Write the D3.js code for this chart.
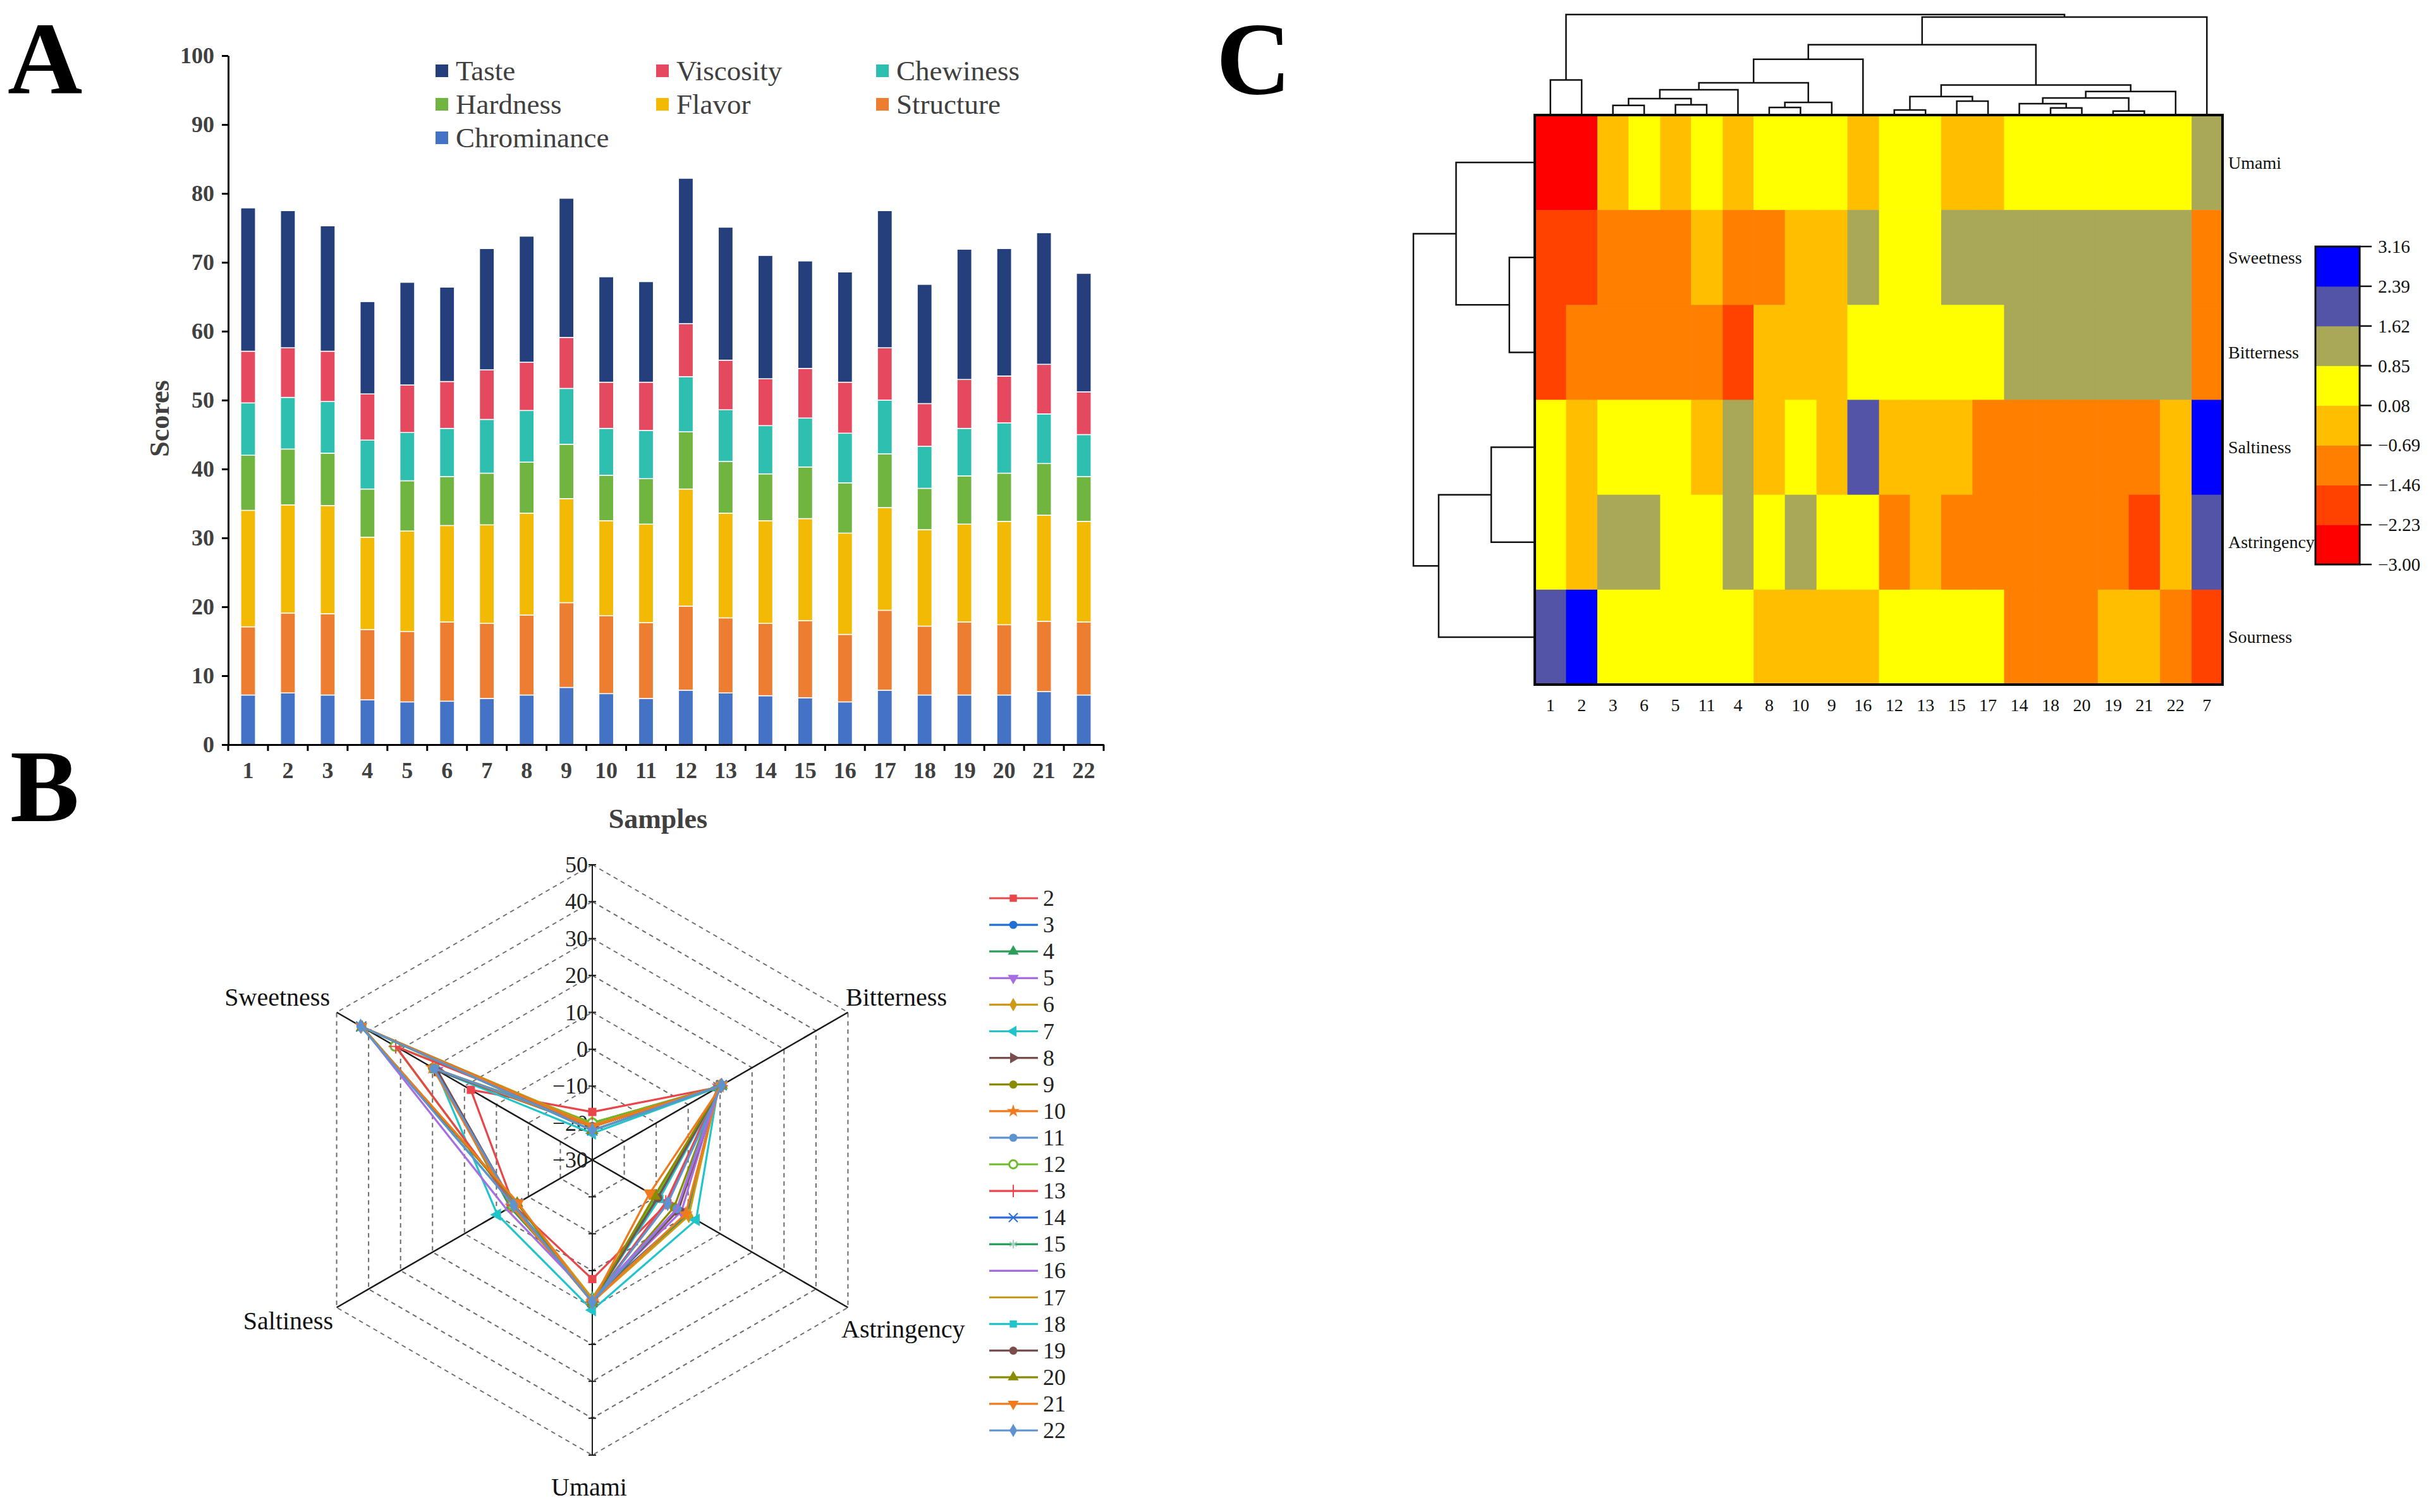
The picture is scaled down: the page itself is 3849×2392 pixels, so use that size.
<!DOCTYPE html>
<html>
<head>
<meta charset="utf-8">
<script src="https://cdn.jsdelivr.net/npm/d3@7"></script>
<style>
  body { margin: 0; background: #fff; }
  text { font-family: "Liberation Serif", "Times New Roman", serif; }
</style>
</head>
<body>
<svg id="fig" width="3849" height="2392"></svg>
<script>
// ---------- Panel A: stacked sensory scores ----------
var samples = d3.range(1, 23).map(String);
var chrominance = [7.2, 7.5, 7.2, 6.5, 6.2, 6.3, 6.7, 7.2, 8.3, 7.4, 6.7, 7.9, 7.5, 7.1, 6.8, 6.2, 7.9, 7.2, 7.2, 7.2, 7.7, 7.2];
var structure   = [9.9, 11.6, 11.8, 10.2, 10.2, 11.5, 10.9, 11.6, 12.3, 11.3, 11.0, 12.2, 10.9, 10.5, 11.2, 9.8, 11.6, 10.0, 10.6, 10.2, 10.2, 10.6];
var flavor      = [16.9, 15.7, 15.7, 13.4, 14.6, 14.0, 14.3, 14.8, 15.1, 13.8, 14.3, 17.0, 15.2, 14.9, 14.8, 14.7, 14.9, 14.0, 14.2, 15.0, 15.4, 14.6];
var hardness    = [8.0, 8.1, 7.6, 7.0, 7.3, 7.1, 7.5, 7.4, 7.9, 6.6, 6.6, 8.3, 7.5, 6.8, 7.5, 7.3, 7.8, 6.0, 7.0, 7.0, 7.5, 6.5];
var chewiness   = [7.6, 7.5, 7.5, 7.1, 7.0, 7.0, 7.8, 7.5, 8.1, 6.8, 7.0, 8.0, 7.5, 7.0, 7.1, 7.2, 7.8, 6.1, 6.9, 7.3, 7.2, 6.1];
var viscosity   = [7.5, 7.2, 7.3, 6.7, 6.9, 6.8, 7.2, 7.0, 7.4, 6.7, 7.0, 7.7, 7.2, 6.8, 7.2, 7.4, 7.6, 6.2, 7.1, 6.8, 7.2, 6.2];
var taste       = [20.8, 19.9, 18.2, 13.4, 14.9, 13.7, 17.6, 18.3, 20.2, 15.3, 14.6, 21.1, 19.3, 17.9, 15.6, 16.0, 19.9, 17.3, 18.9, 18.5, 19.1, 17.2];
var stackKeys = ['Chrominance', 'Structure', 'Flavor', 'Hardness', 'Chewiness', 'Viscosity', 'Taste'];
var stackValues = [chrominance, structure, flavor, hardness, chewiness, viscosity, taste];
var stackColors = ['#4472C4', '#ED7D31', '#F2BA05', '#70B53F', '#2FBFB0', '#E4495F', '#243F7C'];
var legendOrderA = ['Taste', 'Viscosity', 'Chewiness', 'Hardness', 'Flavor', 'Structure', 'Chrominance'];

// ---------- Panel B: radar (e-tongue) ----------
var radarAxes = ['Sourness', 'Bitterness', 'Astringency', 'Umami', 'Saltiness', 'Sweetness'];
var radarNames = d3.range(2, 23).map(String);
var radarValues = [
  [-17.0, 9.4, -6.5, 2.3, -5.4, 8.0],
  [-20.0, 9.4, -0.5, 7.5, -4.8, 18.5],
  [-20.0, 9.2, 0.0, 7.5, -4.3, 19.0],
  [-20.5, 9.4, -2.1, 7.5, -4.8, 18.5],
  [-20.0, 9.4, 0.2, 8.5, -4.8, 19.0],
  [-22.8, 9.4, 2.5, 10.7, -0.3, 19.0],
  [-21.0, 9.8, -3.0, 8.5, -5.4, 18.5],
  [-21.0, 9.8, -4.4, 8.5, -5.4, 20.0],
  [-21.0, 9.8, -0.8, 8.5, -4.8, 20.0],
  [-20.5, 9.4, -3.5, 8.5, -5.4, 19.5],
  [-20.0, 10.2, -10.0, 8.5, -5.4, 31.7],
  [-20.5, 10.2, -7.0, 8.5, -5.4, 31.5],
  [-22.0, 10.5, -9.5, 8.5, -6.5, 42.3],
  [-20.5, 10.2, -9.5, 7.5, -5.4, 42.0],
  [-21.0, 10.2, -3.5, 7.5, -3.2, 42.0],
  [-20.5, 10.2, -9.0, 7.5, -6.5, 42.3],
  [-22.0, 10.5, -9.0, 8.5, -6.5, 42.0],
  [-21.0, 10.5, -9.5, 8.5, -6.5, 42.3],
  [-22.0, 10.5, -10.5, 8.5, -6.5, 42.0],
  [-21.0, 10.5, -12.0, 8.5, -6.75, 42.3],
  [-22.0, 10.5, -6.4, 8.5, -5.4, 42.5]
];
var radarColors = ['#E8464A', '#1F6FD6', '#2E9E5B', '#A66EE0', '#CC9A15', '#22C4CC', '#7A4E4E', '#8B8B00', '#F07A1E', '#5E93D0', '#6CBB2A',
                   '#E8464A', '#2A6FD6', '#2E9E5B', '#A66EE0', '#CC9A15', '#22C4CC', '#7A4E4E', '#8B8B00', '#F07A1E', '#5E93D0'];
var radarMarkers = ['square', 'circle', 'up', 'down', 'diamond', 'left', 'right', 'circle', 'star', 'circle', 'open',
                    'plus', 'times', 'asterisk', 'none', 'none', 'square', 'circle', 'up', 'down', 'diamond'];
var radarTicks = [-30, -20, -10, 0, 10, 20, 30, 40, 50];

// ---------- Panel C: clustered heatmap ----------
var heatRows = ['Umami', 'Sweetness', 'Bitterness', 'Saltiness', 'Astringency', 'Sourness'];
// values per sample 1..22
var umami       = [-2.62, -2.62, -0.31, -0.31, -0.31, 0.47, 1.24, 0.47, 0.47, 0.47, 0.47, 0.47, 0.47, 0.47, -0.31, -0.31, -0.31, 0.47, 0.47, 0.47, 0.47, 0.47];
var sweetness   = [-1.85, -1.85, -1.08, -1.08, -1.08, -1.08, -1.08, -1.08, -0.31, -0.31, -0.31, 0.47, 0.47, 1.24, 1.24, 1.24, 1.24, 1.24, 1.24, 1.24, 1.24, 1.24];
var bitterness  = [-1.85, -1.08, -1.08, -1.85, -1.08, -1.08, -1.08, -0.31, -0.31, -0.31, -1.08, 0.47, 0.47, 1.24, 0.47, 0.47, 0.47, 1.24, 1.24, 1.24, 1.24, 1.24];
var saltiness   = [0.47, -0.31, 0.47, 1.24, 0.47, 0.47, 2.78, -0.31, -0.31, 0.47, -0.31, -0.31, -0.31, -1.08, -0.31, 2.01, -1.08, -1.08, -1.08, -1.08, -1.08, -0.31];
var astringency = [0.47, -0.31, 1.24, 1.24, 0.47, 1.24, 2.01, 0.47, 0.47, 1.24, 0.47, -1.08, -0.31, -1.08, -1.08, 0.47, -1.08, -1.08, -1.08, -1.08, -1.85, -0.31];
var sourness    = [2.01, 2.78, 0.47, 0.47, 0.47, 0.47, -1.85, -0.31, -0.31, -0.31, 0.47, 0.47, 0.47, -1.08, 0.47, -0.31, 0.47, -1.08, -0.31, -1.08, -0.31, -1.08];
var heatValues = [umami, sweetness, bitterness, saltiness, astringency, sourness];
var colorBreaks = [-3.00, -2.23, -1.46, -0.69, 0.08, 0.85, 1.62, 2.39, 3.16];
var binColors = ['#FF0000', '#FF4200', '#FF8000', '#FFBF00', '#FFFF00', '#A9A857', '#5353A8', '#0000FF'];
// dendrograms: [mergeHeight, left, right], leaves are labels
var colTree = [158.7, [55.3, '1', '2'],
  [154.7,
    [111,
      [88, [51, [40, [26, [15.3, '3', '6'], [16.3, '5', '11']], '4'], [20, [12, '8', '10'], '9']], '16'],
      [47.3, [29.3, [8, '12', '13'], [22, '15', '17']], [37.3, [27, [18, '14', [11.3, '18', '20']], [6.3, '19', '21']], '22']]],
    '7']];
var rowTree = [192.3, [124.7, 'Umami', [40.3, 'Sweetness', 'Bitterness']], [152.3, [69, 'Saltiness', 'Astringency'], 'Sourness']];

var svg = d3.select('#fig');
svg.append('rect').attr('width', 3849).attr('height', 2392).attr('fill', '#fff');

// panel letters
[['A', 12, 148], ['B', 16, 1299], ['C', 1924, 148]].forEach(function (p) {
  svg.append('text').attr('x', p[1]).attr('y', p[2]).attr('font-size', 164).attr('font-weight', 'bold').text(p[0]);
});

/* ===== Panel A ===== */
var A = {left: 361, right: 1746, top: 88, bottom: 1178};
var gA = svg.append('g');
var xA = d3.scaleBand().domain(samples).range([A.left, A.right]).paddingInner(0.63).paddingOuter(0.315);
var yA = d3.scaleLinear().domain([0, 100]).range([A.bottom, A.top]);

var rowsA = samples.map(function (s, i) {
  var o = {sample: s};
  stackKeys.forEach(function (k, j) { o[k] = stackValues[j][i]; });
  return o;
});
var stacked = d3.stack().keys(stackKeys)(rowsA);

gA.selectAll('g.layer').data(stacked).enter().append('g')
  .attr('class', 'layer')
  .attr('fill', function (d, i) { return stackColors[i]; })
  .selectAll('rect').data(function (d) { return d; }).enter().append('rect')
  .attr('x', function (d) { return xA(d.data.sample); })
  .attr('width', xA.bandwidth())
  .attr('y', function (d) { return yA(d[1]); })
  .attr('height', function (d) { return yA(d[0]) - yA(d[1]); })
  .attr('stroke', '#fff').attr('stroke-width', 1.5);

var yAxisA = d3.axisLeft(yA).tickValues(d3.range(0, 101, 10)).tickSize(10).tickSizeOuter(0).tickPadding(12);
gA.append('g').attr('transform', 'translate(' + A.left + ',0)').call(yAxisA)
  .call(function (g) { g.select('.domain').attr('stroke', '#000').attr('stroke-width', 3); })
  .call(function (g) { g.selectAll('.tick line').attr('stroke', '#000').attr('stroke-width', 3); })
  .call(function (g) {
    g.selectAll('.tick text').attr('font-size', 36).attr('font-weight', 'bold').attr('fill', '#404040')
      .attr('font-family', '"Liberation Serif", serif');
  });

var xAxisA = d3.axisBottom(xA).tickSize(0).tickSizeOuter(0);
gA.append('g').attr('transform', 'translate(0,' + A.bottom + ')').call(xAxisA)
  .call(function (g) { g.select('.domain').attr('stroke', '#000').attr('stroke-width', 3); })
  .call(function (g) {
    g.selectAll('.tick text').attr('y', 41).attr('dy', null).attr('dominant-baseline', 'central')
      .attr('font-size', 36).attr('font-weight', 'bold').attr('fill', '#404040')
      .attr('font-family', '"Liberation Serif", serif');
  });
// tick marks sit between the bars
gA.append('g').selectAll('line').data(d3.range(samples.length + 1)).enter().append('line')
  .attr('x1', function (i) { return A.left + i * xA.step(); })
  .attr('x2', function (i) { return A.left + i * xA.step(); })
  .attr('y1', A.bottom).attr('y2', A.bottom + 10)
  .attr('stroke', '#000').attr('stroke-width', 3);

gA.append('text').attr('transform', 'translate(252,662) rotate(-90)')
  .attr('text-anchor', 'middle').attr('dominant-baseline', 'central')
  .attr('font-size', 44).attr('font-weight', 'bold').attr('fill', '#404040').text('Scores');
gA.append('text').attr('x', 1041).attr('y', 1295)
  .attr('text-anchor', 'middle').attr('dominant-baseline', 'central')
  .attr('font-size', 44).attr('font-weight', 'bold').attr('fill', '#404040').text('Samples');

var legColX = [689, 1038, 1386], legRowY = [112, 165, 218];
var legA = gA.append('g').selectAll('g').data(legendOrderA).enter().append('g')
  .attr('transform', function (d, i) { return 'translate(' + legColX[i % 3] + ',' + legRowY[Math.floor(i / 3)] + ')'; });
legA.append('rect').attr('x', 0).attr('y', -10).attr('width', 20).attr('height', 20)
  .attr('fill', function (d) { return stackColors[stackKeys.indexOf(d)]; });
legA.append('text').attr('x', 32).attr('dominant-baseline', 'central')
  .attr('font-size', 45).attr('fill', '#404040').text(function (d) { return d; });

/* ===== Panel B ===== */
var B = {cx: 937, cy: 1835, R: 467};
var rB = d3.scaleLinear().domain([-30, 50]).range([0, B.R]);
var gB = svg.append('g').attr('transform', 'translate(' + B.cx + ',' + B.cy + ')');
var ang = function (i) { return i * Math.PI / 3; };
var px = function (v, i) { return rB(v) * Math.sin(ang(i)); };
var py = function (v, i) { return -rB(v) * Math.cos(ang(i)); };

// grid rings
gB.append('g').selectAll('path').data(radarTicks.slice(1)).enter().append('path')
  .attr('d', function (v) {
    return d3.line()(radarAxes.map(function (a, i) { return [px(v, i), py(v, i)]; })) + 'Z';
  })
  .attr('fill', 'none').attr('stroke', '#6a6a6a').attr('stroke-width', 2).attr('stroke-dasharray', '7,6');
// spokes
gB.append('g').selectAll('line').data(radarAxes).enter().append('line')
  .attr('x1', 0).attr('y1', 0)
  .attr('x2', function (d, i) { return px(50, i); })
  .attr('y2', function (d, i) { return py(50, i); })
  .attr('stroke', '#1a1a1a').attr('stroke-width', function (d, i) { return i % 3 === 0 ? 2 : 2.5; });
// small ticks on the vertical spokes
[0, 3].forEach(function (ai) {
  gB.append('g').selectAll('line').data(radarTicks.slice(1)).enter().append('line')
    .attr('x1', -6).attr('x2', 6)
    .attr('y1', function (v) { return py(v, ai); }).attr('y2', function (v) { return py(v, ai); })
    .attr('stroke', '#1a1a1a').attr('stroke-width', 2);
});
// tick labels
gB.append('g').selectAll('text').data(radarTicks).enter().append('text')
  .attr('x', -7).attr('y', function (v) { return py(v, 0); })
  .attr('text-anchor', 'end').attr('dominant-baseline', 'central')
  .attr('font-size', 36).attr('fill', '#222')
  .text(function (v) { return d3.format('d')(v); });

// axis labels
var radarLabelPos = {
  Bitterness: [1338, 1577, 'start'], Astringency: [1331, 2102, 'start'], Umami: [932, 2352, 'middle'],
  Saltiness: [527, 2089, 'end'], Sweetness: [522, 1577, 'end']
};
radarAxes.forEach(function (a) {
  var p = radarLabelPos[a];
  if (!p) return;
  svg.append('text').attr('x', p[0]).attr('y', p[1]).attr('text-anchor', p[2])
    .attr('dominant-baseline', 'central').attr('font-size', 40).attr('fill', '#111').text(a);
});

function markerSymbol(sel, kind, color, size) {
  if (kind === 'none') return;
  var type = d3.symbolCircle, rot = 0, fill = color, stroke = 'none', sw = 0;
  if (kind === 'square') type = d3.symbolSquare;
  else if (kind === 'up') type = d3.symbolTriangle;
  else if (kind === 'down') { type = d3.symbolTriangle; rot = 180; }
  else if (kind === 'left') { type = d3.symbolTriangle; rot = -90; }
  else if (kind === 'right') { type = d3.symbolTriangle; rot = 90; }
  else if (kind === 'diamond') type = d3.symbolDiamond;
  else if (kind === 'star') type = d3.symbolStar;
  else if (kind === 'open') { fill = '#fff'; stroke = color; sw = 3; }
  else if (kind === 'plus') { type = d3.symbolPlus; fill = 'none'; stroke = color; sw = 2; }
  else if (kind === 'times') { type = d3.symbolTimes; fill = 'none'; stroke = color; sw = 2; }
  else if (kind === 'asterisk') { type = d3.symbolAsterisk; fill = 'none'; stroke = '#9fd3c0'; sw = 2; }
  sel.append('path').attr('d', d3.symbol().type(type).size(size))
    .attr('fill', fill).attr('stroke', stroke).attr('stroke-width', sw)
    .attr('transform', 'rotate(' + rot + ')');
}

var radarLine = d3.lineRadial().angle(function (d, i) { return ang(i); })
  .radius(function (d) { return rB(d); }).curve(d3.curveLinearClosed);
radarValues.forEach(function (vals, s) {
  var g = gB.append('g');
  g.append('path').attr('d', radarLine(vals)).attr('fill', 'none')
    .attr('stroke', radarColors[s]).attr('stroke-width', 3.2).attr('stroke-linejoin', 'round');
  vals.forEach(function (v, i) {
    var m = g.append('g').attr('transform', 'translate(' + px(v, i) + ',' + py(v, i) + ')');
    markerSymbol(m, radarMarkers[s], radarColors[s], 170);
  });
});

// legend
var legB = svg.append('g').selectAll('g').data(radarNames).enter().append('g')
  .attr('transform', function (d, i) { return 'translate(0,' + (1421 + i * 42.1) + ')'; });
legB.append('line').attr('x1', 1565).attr('x2', 1642).attr('y1', 0).attr('y2', 0)
  .attr('stroke', function (d, i) { return radarColors[i]; }).attr('stroke-width', 3.2);
legB.each(function (d, i) {
  var m = d3.select(this).append('g').attr('transform', 'translate(1603,0)');
  markerSymbol(m, radarMarkers[i], radarColors[i], 130);
});
legB.append('text').attr('x', 1650).attr('dominant-baseline', 'central')
  .attr('font-size', 36).attr('fill', '#222').text(function (d) { return d; });

/* ===== Panel C ===== */
var C = {left: 2428, right: 3516, top: 182, bottom: 1083};
var gC = svg.append('g');
var toHier = function (t) { return d3.hierarchy(t, function (d) { return Array.isArray(d) ? d.slice(1) : null; }); };
var colRoot = toHier(colTree), rowRoot = toHier(rowTree);
var colOrder = colRoot.leaves().map(function (d) { return d.data; });
var rowOrder = rowRoot.leaves().map(function (d) { return d.data; });

var xC = d3.scaleBand().domain(colOrder).range([C.left, C.right]);
var yC = d3.scaleBand().domain(rowOrder).range([C.top, C.bottom]);
var colorC = d3.scaleThreshold().domain(colorBreaks.slice(1, -1)).range(binColors);

var cells = [];
heatRows.forEach(function (r, ri) {
  samples.forEach(function (s, si) { cells.push({row: r, col: s, v: heatValues[ri][si]}); });
});
gC.append('g').selectAll('rect').data(cells).enter().append('rect')
  .attr('x', function (d) { return xC(d.col); }).attr('y', function (d) { return yC(d.row); })
  .attr('width', xC.bandwidth() + 0.6).attr('height', yC.bandwidth() + 0.6)
  .attr('fill', function (d) { return colorC(d.v); });
gC.append('rect').attr('x', C.left).attr('y', C.top).attr('width', C.right - C.left).attr('height', C.bottom - C.top)
  .attr('fill', 'none').attr('stroke', '#000').attr('stroke-width', 4);

gC.append('g').selectAll('text').data(rowOrder).enter().append('text')
  .attr('x', 3525).attr('y', function (d) { return yC(d) + yC.bandwidth() / 2; })
  .attr('dominant-baseline', 'central').attr('font-size', 28).attr('fill', '#111').text(function (d) { return d; });
gC.append('g').selectAll('text').data(colOrder).enter().append('text')
  .attr('x', function (d) { return xC(d) + xC.bandwidth() / 2; }).attr('y', 1115)
  .attr('text-anchor', 'middle').attr('dominant-baseline', 'central')
  .attr('font-size', 28).attr('fill', '#111').text(function (d) { return d; });

// dendrograms
function drawDendro(root, leafPos, hScale, vertical) {
  root.eachAfter(function (n) {
    if (!n.children) { n.pos = leafPos(n.data); n.h = 0; }
    else { n.h = n.data[0]; n.pos = d3.mean(n.children, function (c) { return c.pos; }); }
  });
  var path = [];
  root.each(function (n) {
    if (!n.children) return;
    var a = n.children[0], b = n.children[1];
    if (vertical) {
      path.push('M' + a.pos + ',' + hScale(a.h) + 'V' + hScale(n.h) + 'H' + b.pos + 'V' + hScale(b.h));
    } else {
      path.push('M' + hScale(a.h) + ',' + a.pos + 'H' + hScale(n.h) + 'V' + b.pos + 'H' + hScale(b.h));
    }
  });
  gC.append('path').attr('d', path.join('')).attr('fill', 'none')
    .attr('stroke', '#111').attr('stroke-width', 2.5);
}
drawDendro(colRoot, function (l) { return xC(l) + xC.bandwidth() / 2; },
  d3.scaleLinear().domain([0, colTree[0]]).range([C.top, 23]), true);
drawDendro(rowRoot, function (l) { return yC(l) + yC.bandwidth() / 2; },
  d3.scaleLinear().domain([0, rowTree[0]]).range([C.left, 2236]), false);

// colour key
var CB = {left: 3663, right: 3733};
var yCB = d3.scaleLinear().domain([colorBreaks[0], colorBreaks[colorBreaks.length - 1]]).range([893, 390]);
gC.append('g').selectAll('rect').data(binColors).enter().append('rect')
  .attr('x', CB.left).attr('width', CB.right - CB.left)
  .attr('y', function (d, i) { return yCB(colorBreaks[i + 1]); })
  .attr('height', function (d, i) { return yCB(colorBreaks[i]) - yCB(colorBreaks[i + 1]) + 0.5; })
  .attr('fill', function (d) { return d; });
gC.append('rect').attr('x', CB.left).attr('y', yCB(colorBreaks[colorBreaks.length - 1]))
  .attr('width', CB.right - CB.left).attr('height', yCB(colorBreaks[0]) - yCB(colorBreaks[colorBreaks.length - 1]))
  .attr('fill', 'none').attr('stroke', '#111').attr('stroke-width', 3);
var cbTicks = gC.append('g').selectAll('g').data(colorBreaks).enter().append('g')
  .attr('transform', function (d) { return 'translate(' + CB.right + ',' + yCB(d) + ')'; });
cbTicks.append('line').attr('x1', 0).attr('x2', 19).attr('stroke', '#111').attr('stroke-width', 2.5);
cbTicks.append('text').attr('x', 29).attr('dominant-baseline', 'central')
  .attr('font-size', 29).attr('fill', '#111').text(function (d) { return d3.format('.2f')(d); });
</script>
</body>
</html>
